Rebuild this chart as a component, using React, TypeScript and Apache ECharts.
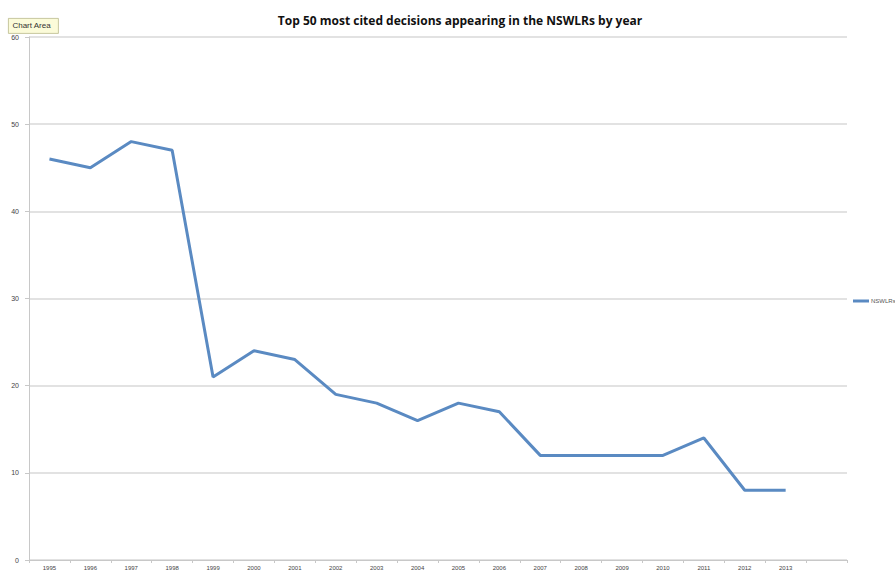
import React, { useEffect, useRef } from "react";
import * as echarts from "echarts";

const years = ["1995","1996","1997","1998","1999","2000","2001","2002","2003","2004","2005","2006","2007","2008","2009","2010","2011","2012","2013",""];
const nswlrs = [46,45,48,47,21,24,23,19,18,16,18,17,12,12,12,12,14,8,8];
const seriesName = "NSWLRs";
const titleText = "Top 50 most cited decisions appearing in the NSWLRs by year";

export default function App() {
  const ref = useRef<HTMLDivElement>(null);
  useEffect(() => {
    if (!ref.current) return;
    const chart = echarts.init(ref.current, null, { renderer: "svg" });
    chart.setOption({
      animation: false,
      backgroundColor: "#ffffff",
      title: {
        text: titleText,
        left: 455,
        top: 9,
        textAlign: "center",
        textStyle: { fontFamily: "Open Sans", fontSize: 12, fontWeight: "bold", color: "#111" },
      },
      legend: {
        left: 853,
        top: 298,
        padding: 0,
        itemWidth: 16,
        itemHeight: 3,
        itemGap: 2,
        textStyle: { fontSize: 6, color: "#555", padding: [0, 0, 0, -3] },
        data: [{ name: seriesName, icon: "rect" }],
      },
      grid: { left: 29, right: 48, top: 37, bottom: 13, containLabel: false },
      xAxis: {
        type: "category",
        data: years,
        boundaryGap: true,
        axisLine: { lineStyle: { color: "#c8c8c8", width: 1 } },
        axisTick: { show: true, length: 3, lineStyle: { color: "#c8c8c8" } },
        axisLabel: { fontSize: 6, color: "#444", margin: 5, interval: 0 },
      },
      yAxis: {
        type: "value",
        min: 0,
        max: 60,
        interval: 10,
        axisLine: { show: true, lineStyle: { color: "#c8c8c8", width: 1 } },
        axisTick: { show: true, length: 4, lineStyle: { color: "#c8c8c8" } },
        axisLabel: { fontSize: 7, color: "#444", margin: 10 },
        splitLine: { lineStyle: { color: "#d9d9d9", width: 1.5 } },
      },
      series: [
        {
          name: seriesName,
          type: "line",
          data: nswlrs,
          symbol: "none",
          lineStyle: { color: "#5a8ac2", width: 3 },
          itemStyle: { color: "#5a8ac2" },
        },
      ],
      graphic: [
        {
          type: "group",
          left: 8,
          top: 18,
          children: [
            { type: "rect", shape: { x: 0, y: 0, width: 50, height: 15 }, style: { fill: "#fbfbd9", stroke: "#b9b98a", lineWidth: 0.8 } },
            { type: "text", x: 4, y: 3, style: { text: "Chart Area", fontSize: 8, fill: "#333", fontFamily: "Liberation Sans" } },
          ],
        },
      ],
    });
    return () => chart.dispose();
  }, []);
  return <div ref={ref} style={{ position: "fixed", left: 0, top: 0, width: 895, height: 573 }} />;
}
